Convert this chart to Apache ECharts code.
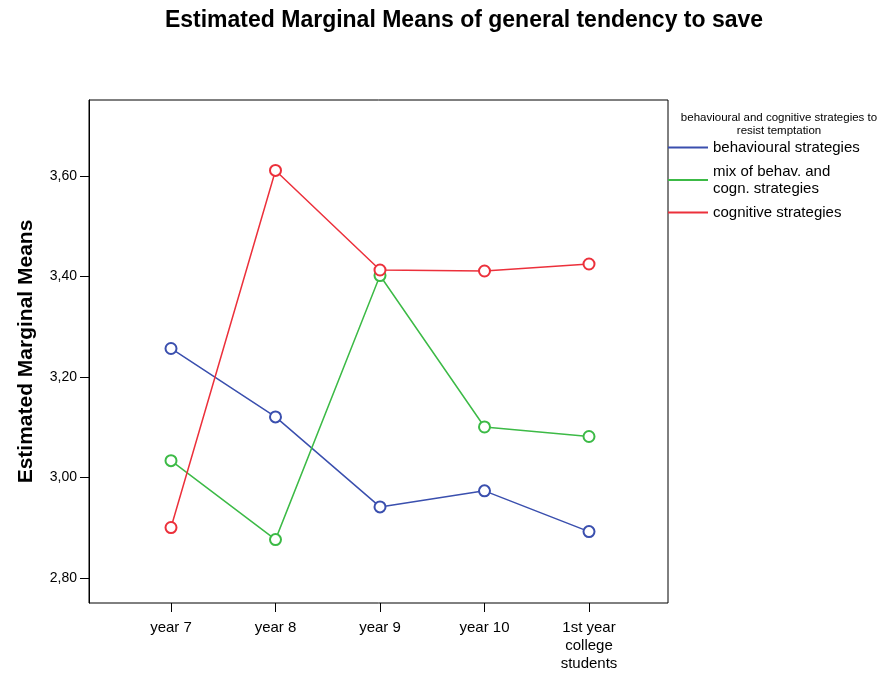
<!DOCTYPE html>
<html><head><meta charset="utf-8">
<script src="https://cdn.jsdelivr.net/npm/echarts@6/dist/echarts.min.js"></script>
<style>html,body{margin:0;padding:0;background:#fff}#c{width:880px;height:674px}</style>
</head><body><div id="c"></div>
<script>
const categories = ['year 7', 'year 8', 'year 9', 'year 10', '1st year\ncollege\nstudents'];
const behavioural = [3.256, 3.120, 2.941, 2.973, 2.892];
const mixed = [3.033, 2.876, 3.401, 3.100, 3.081];
const cognitive = [2.900, 3.610, 3.412, 3.410, 3.424];
const seriesNames = ['behavioural strategies', 'mix of behav. and\ncogn. strategies', 'cognitive strategies'];
const colors = ['#3a4fae', '#3cba46', '#ec303b'];
const yTicks = { min: 2.8, max: 3.6, interval: 0.2 };

const font = 'Liberation Sans, Arial, sans-serif';
const chart = echarts.init(document.getElementById('c'));
const dataSets = [behavioural, mixed, cognitive];

chart.setOption({
  animation: false,
  graphic: [
    { type: 'text', x: 464, y: 21,
      style: { text: 'Estimated Marginal Means of general tendency to save', textAlign: 'center', textVerticalAlign: 'middle',
        fontFamily: font, fontSize: 23, fontWeight: 'bold', fill: '#000' } },
    { type: 'text', x: 779, y: 111,
      style: { text: 'behavioural and cognitive strategies to\nresist temptation', textAlign: 'center',
        fontFamily: font, fontSize: 11.5, lineHeight: 13, fill: '#000' } }
  ],
  legend: {
    orient: 'vertical', left: 668, top: 139, padding: 0, itemGap: 7,
    itemWidth: 40, itemHeight: 2, icon: 'rect',
    textStyle: { fontFamily: font, fontSize: 15, lineHeight: 17, color: '#000' },
    data: seriesNames.map((n, i) => ({ name: n, itemStyle: { color: colors[i], borderWidth: 0 } }))
  },
  grid: [
    { left: 89, top: 100, width: 579, height: 503, show: true, borderColor: '#000', borderWidth: 1, backgroundColor: 'transparent' },
    { left: 118.75, top: 100, width: 522.5, height: 503 },
    { left: 89, top: 176, width: 579, height: 402 }
  ],
  xAxis: [
    { gridIndex: 0, type: 'value', show: false, min: 0, max: 1 },
    { gridIndex: 1, type: 'category', data: categories, boundaryGap: true,
      axisLine: { show: false },
      axisTick: { show: true, alignWithLabel: true, length: 9, lineStyle: { color: '#000', width: 1 } },
      axisLabel: { margin: 16, fontFamily: font, fontSize: 15, lineHeight: 18, color: '#000' },
      splitLine: { show: false } },
    { gridIndex: 2, type: 'value', show: false, min: 0, max: 1 }
  ],
  yAxis: [
    { gridIndex: 0, type: 'value', min: 0, max: 1,
      axisLine: { show: true, lineStyle: { color: '#000', width: 1 } },
      axisTick: { show: false }, axisLabel: { show: false }, splitLine: { show: false },
      name: 'Estimated Marginal Means', nameLocation: 'middle', nameGap: 52,
      nameTextStyle: { fontFamily: font, fontSize: 21, fontWeight: 'bold', color: '#000' } },
    { gridIndex: 1, type: 'value', min: 2.75, max: 3.75, show: false },
    { gridIndex: 2, type: 'value', min: yTicks.min, max: yTicks.max, interval: yTicks.interval,
      axisLine: { show: false },
      axisTick: { show: true, length: 9, lineStyle: { color: '#000', width: 1 } },
      axisLabel: { margin: 12, fontFamily: font, fontSize: 14, color: '#000',
        formatter: v => v.toFixed(2).replace('.', ',') },
      splitLine: { show: false } }
  ],
  series: dataSets.map((d, i) => ({
    name: seriesNames[i], type: 'line', xAxisIndex: 1, yAxisIndex: 1, data: d,
    symbol: 'emptyCircle', symbolSize: 11,
    lineStyle: { color: colors[i], width: 1.5 },
    itemStyle: { color: colors[i], borderColor: colors[i], borderWidth: 1.5 },
    emphasis: { disabled: true }
  }))
});
</script></body></html>
